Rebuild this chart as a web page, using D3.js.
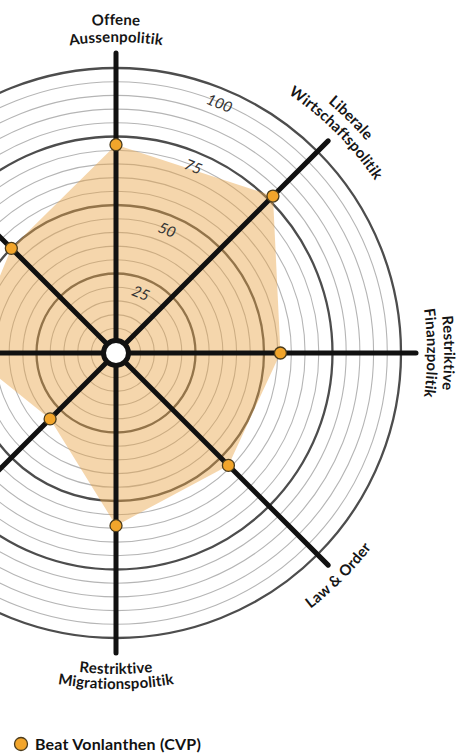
<!DOCTYPE html>
<html>
<head>
<meta charset="utf-8">
<script src="https://cdn.jsdelivr.net/npm/d3@7"></script>
<style>
  html, body { margin: 0; padding: 0; background: #fff; }
  svg { display: block; }
  text { font-family: Lato, "Open Sans", sans-serif; }
</style>
</head>
<body>
<svg id="chart" width="457" height="755"></svg>
<script>
// Smartspider axes, clockwise from the top
const categories = [
  ["Offene", "Aussenpolitik"],
  ["Liberale", "Wirtschaftspolitik"],
  ["Restriktive", "Finanzpolitik"],
  ["Law & Order"],
  ["Restriktive", "Migrationspolitik"],
  ["Ausgebauter", "Umweltschutz"],
  ["Ausgebauter", "Sozialstaat"],
  ["Liberale", "Gesellschaft"]
];
// Profile values (0-100)
const values = [72, 77, 56, 54, 59, 30, 50, 50];
const seriesName = "Beat Vonlanthen (CVP)";
// Ring steps and labelled rings
const ringValues = d3.range(5, 101, 5);
const tickLabels = [25, 50, 75, 100];

const W = 457, H = 755;
const svg = d3.select("#chart");
const cx = 116, cy = 353;
const hubR = 11, outerR = 285, axisR = 300;

const r = d3.scaleLinear().domain([0, 100]).range([hubR, outerR]);
const angle = d3.scaleLinear().domain([0, categories.length]).range([0, 2 * Math.PI]);

const g = svg.append("g").attr("transform", `translate(${cx},${cy})`);
const defs = svg.append("defs");

// concentric rings
g.append("g").selectAll("circle")
  .data(ringValues)
  .join("circle")
  .attr("r", d => r(d))
  .attr("fill", "none")
  .attr("stroke", d => d % 25 === 0 ? "#4d4d4d" : "#b5b5b5")
  .attr("stroke-width", d => d % 25 === 0 ? 2.3 : 1.1);

// profile area
const radial = d3.lineRadial()
  .angle((d, i) => angle(i))
  .radius(d => r(d))
  .curve(d3.curveLinearClosed);

g.append("path")
  .datum(values)
  .attr("d", radial)
  .attr("fill", "rgb(232,165,70)")
  .attr("fill-opacity", 0.45);

// ring labels
const tickAngle = 22.5;
g.append("g").selectAll("text")
  .data(tickLabels)
  .join("text")
  .attr("transform", d => {
    const rad = tickAngle * Math.PI / 180, rr = r(d) - 14;
    return `translate(${rr * Math.sin(rad)},${-rr * Math.cos(rad)}) rotate(${tickAngle})`;
  })
  .attr("text-anchor", "middle")
  .attr("dominant-baseline", "central")
  .attr("font-style", "italic")
  .attr("font-size", 15)
  .attr("fill", "#333")
  .text(d => d);

// axes
g.append("g").selectAll("line")
  .data(categories)
  .join("line")
  .attr("x1", 0).attr("y1", 0)
  .attr("x2", (d, i) => axisR * Math.sin(angle(i)))
  .attr("y2", (d, i) => -axisR * Math.cos(angle(i)))
  .attr("stroke", "#111")
  .attr("stroke-width", 5)
  .attr("stroke-linecap", "round");

// hub
g.append("circle")
  .attr("r", 12.5)
  .attr("fill", "#fff")
  .attr("stroke", "#111")
  .attr("stroke-width", 5);

// value markers
g.append("g").selectAll("circle")
  .data(values)
  .join("circle")
  .attr("cx", (d, i) => r(d) * Math.sin(angle(i)))
  .attr("cy", (d, i) => -r(d) * Math.cos(angle(i)))
  .attr("r", 6)
  .attr("fill", "#f2a52b")
  .attr("stroke", "#4a3b1c")
  .attr("stroke-width", 1.3);

// axis labels following the circle (only those that fall inside the canvas)
categories.forEach((lines, i) => {
  const a = angle(i);
  const deg = a * 180 / Math.PI;
  const lower = deg > 90.5 && deg < 269.5;
  const lx = cx + 320 * Math.sin(a), ly = cy - 320 * Math.cos(a);
  if (lx < 0 || lx > W || ly < 0 || ly > H) return;
  lines.forEach((line, j) => {
    const rr = lower ? 321 + 15 * j : 328 - 17 * j;
    const sa = a - Math.PI / 2;
    const p = d3.path();
    if (lower) p.arc(cx, cy, rr, sa + Math.PI / 2, sa - Math.PI / 2, true);
    else p.arc(cx, cy, rr, sa - Math.PI / 2, sa + Math.PI / 2, false);
    const id = `lab-${i}-${j}`;
    defs.append("path").attr("id", id).attr("d", p.toString());
    svg.append("text")
      .attr("font-size", 15)
      .attr("font-weight", 700)
      .attr("letter-spacing", 0.2)
      .attr("fill", "#151515")
      .append("textPath")
      .attr("href", `#${id}`)
      .attr("startOffset", "50%")
      .attr("text-anchor", "middle")
      .text(line);
  });
});

// legend
const legend = svg.append("g").attr("transform", "translate(21,744)");
legend.append("circle")
  .attr("r", 6.5)
  .attr("fill", "#f2a52b")
  .attr("stroke", "#4a3b1c")
  .attr("stroke-width", 1.3);
legend.append("text")
  .attr("x", 14)
  .attr("y", 5.5)
  .attr("font-size", 16)
  .attr("font-weight", 700)
  .attr("letter-spacing", 0.2)
  .attr("fill", "#111")
  .text(seriesName);
</script>
</body>
</html>
